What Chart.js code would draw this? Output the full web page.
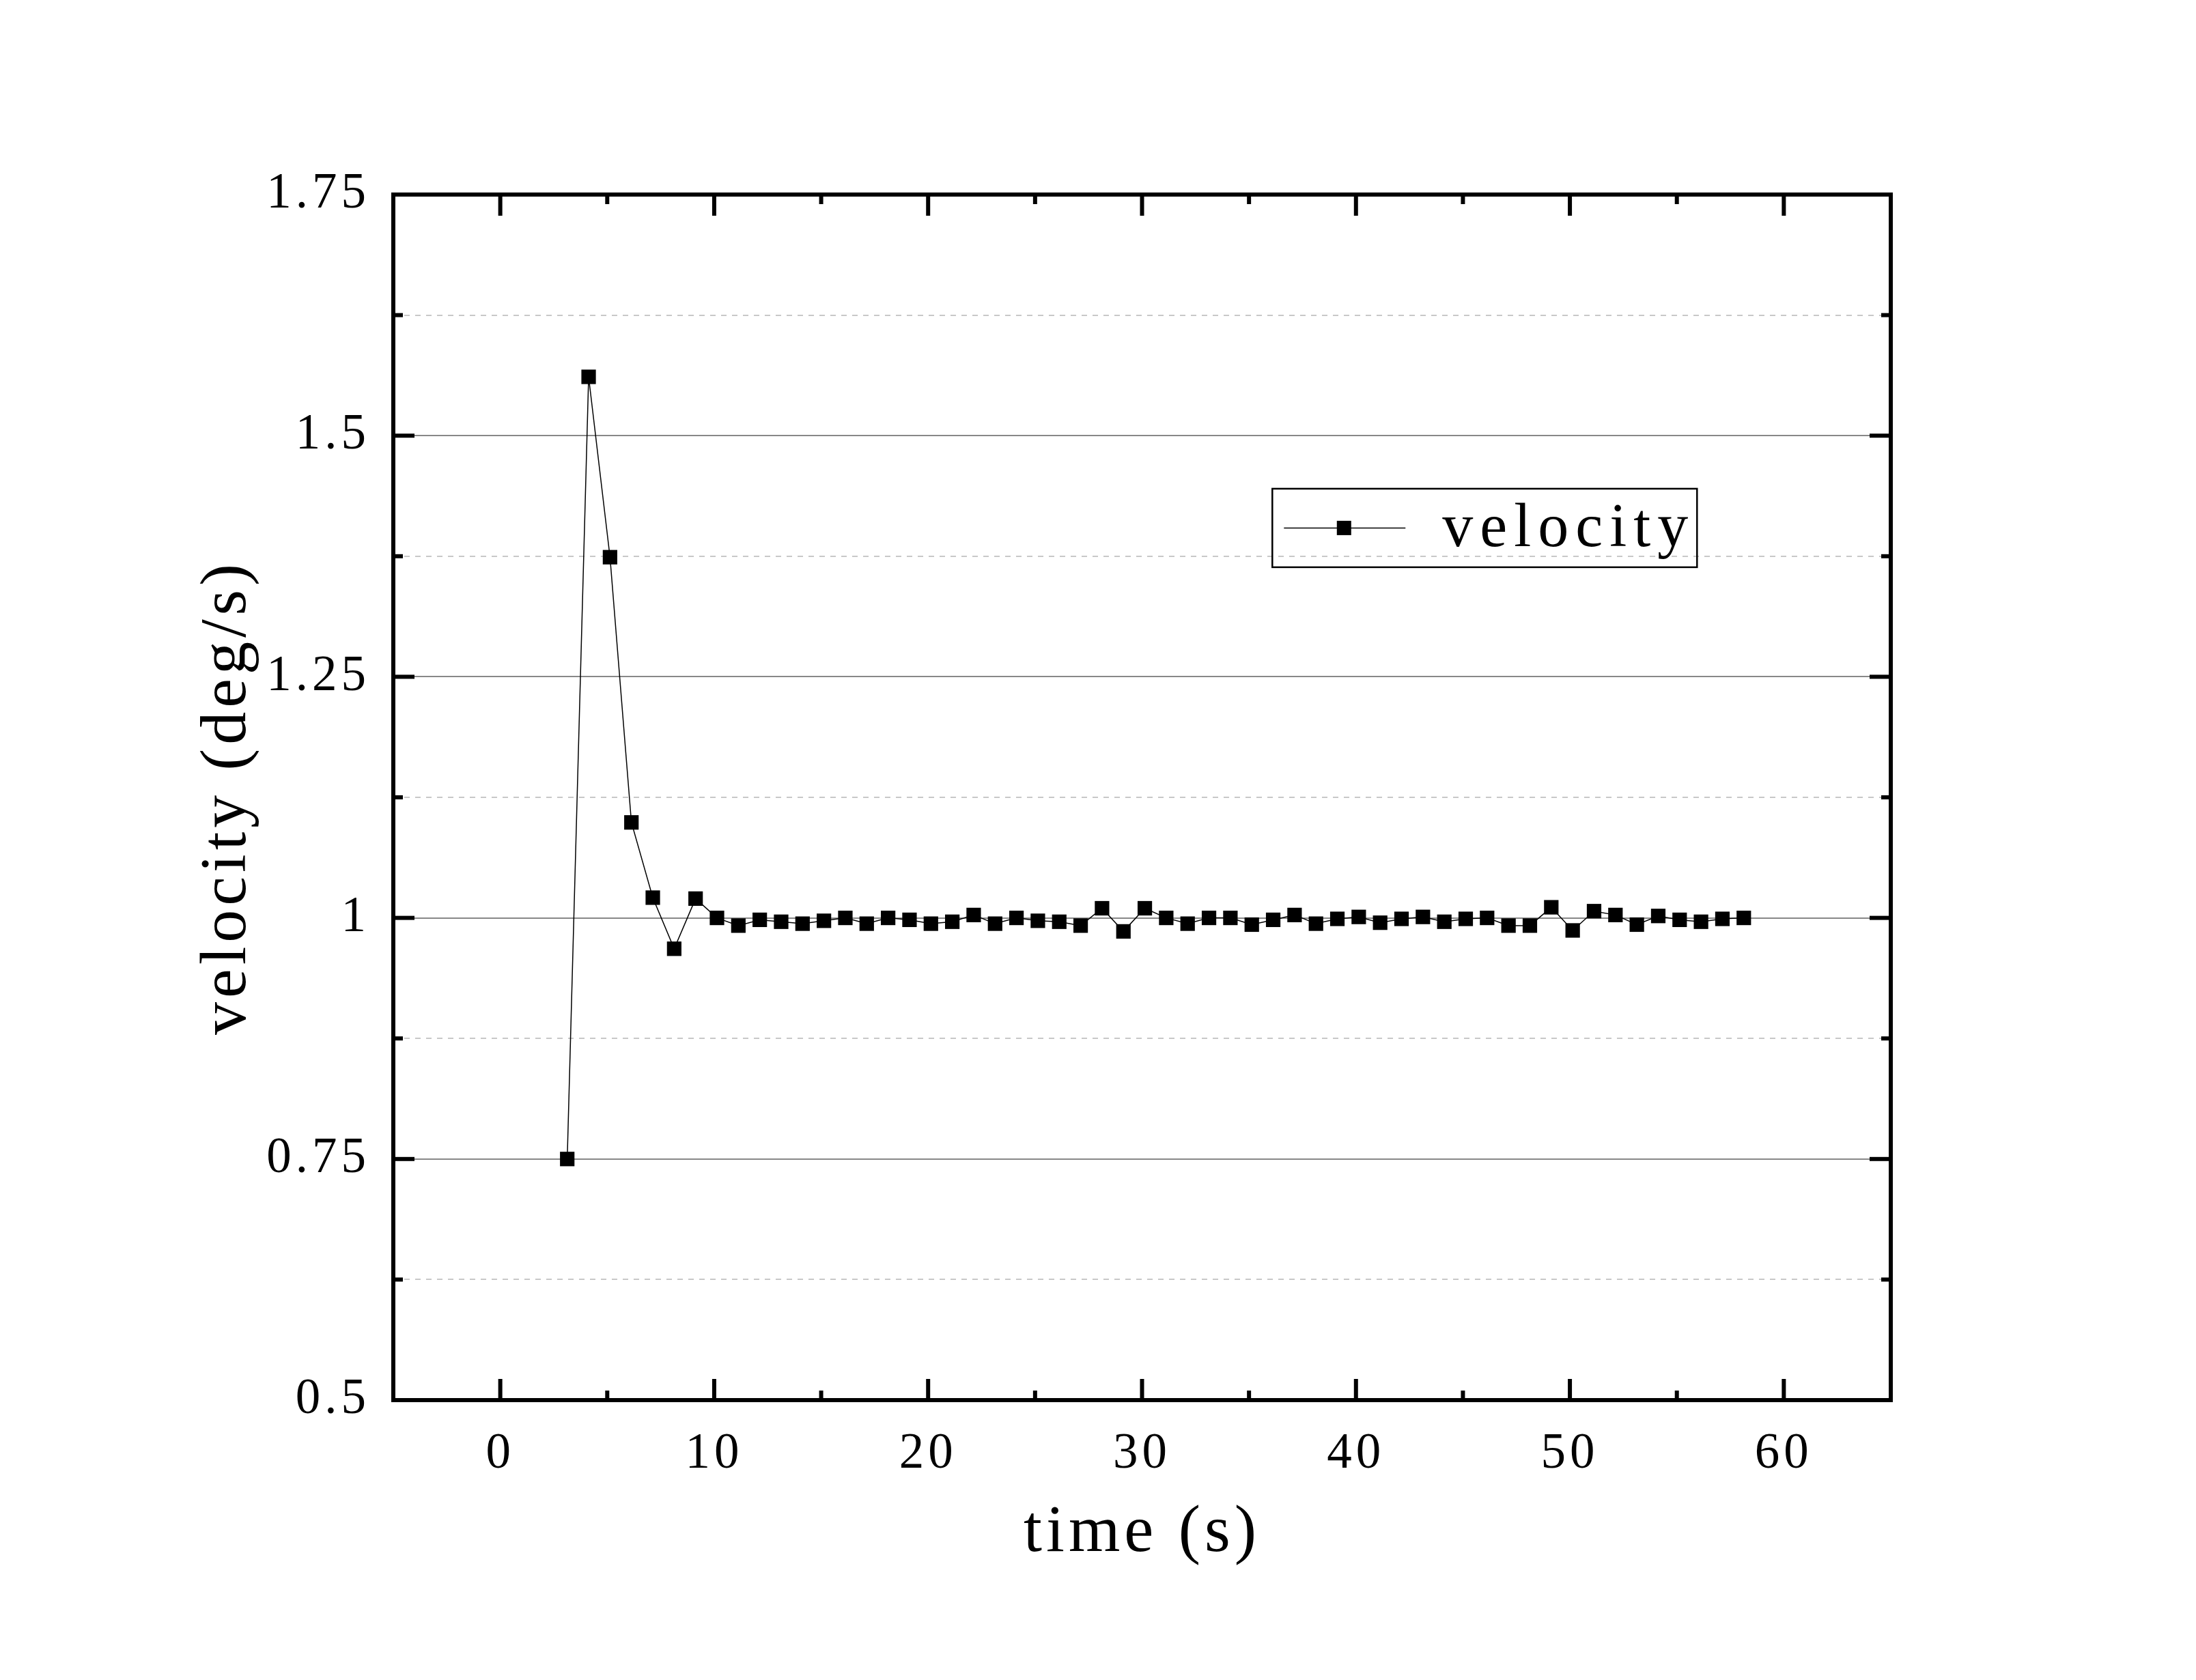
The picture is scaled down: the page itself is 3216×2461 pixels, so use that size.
<!DOCTYPE html>
<html>
<head>
<meta charset="utf-8">
<script src="https://cdn.jsdelivr.net/npm/chart.js"></script>
<style>
  html, body { margin: 0; padding: 0; background: #fff; }
  #wrap { width: 3216px; height: 2461px; }
</style>
</head>
<body>
<div id="wrap"><canvas id="velocity"></canvas></div>
<script>
const times = [3.13, 4.13, 5.13, 6.13, 7.13, 8.13, 9.13, 10.13, 11.13, 12.13, 13.13,
  14.13, 15.13, 16.13, 17.13, 18.13, 19.13, 20.13, 21.13, 22.13, 23.13, 24.13, 25.13,
  26.13, 27.13, 28.13, 29.13, 30.13, 31.13, 32.13, 33.13, 34.13, 35.13, 36.13, 37.13,
  38.13, 39.13, 40.13, 41.13, 42.13, 43.13, 44.13, 45.13, 46.13, 47.13, 48.13, 49.13,
  50.13, 51.13, 52.13, 53.13, 54.13, 55.13, 56.13, 57.13, 58.13];
const velocity = [0.750, 1.561, 1.374, 1.099, 1.021, 0.968, 1.020, 1.000, 0.992, 0.998,
  0.996, 0.994, 0.997, 1.000, 0.994, 1.000, 0.998, 0.994, 0.996, 1.003,
  0.994, 1.000, 0.997, 0.996, 0.992, 1.010, 0.986, 1.010, 1.000, 0.994,
  1.000, 1.000, 0.993, 0.998, 1.003, 0.994, 0.999, 1.001, 0.995, 0.999,
  1.001, 0.996, 0.999, 1.000, 0.992, 0.992, 1.011, 0.987, 1.007, 1.003,
  0.993, 1.002, 0.998, 0.996, 0.999, 1.000];
const xTicks = [0, 10, 20, 30, 40, 50, 60];
const xMinor = [5, 15, 25, 35, 45, 55];
const yTicks = [0.5, 0.75, 1, 1.25, 1.5, 1.75];
const yMinor = [0.625, 0.875, 1.125, 1.375, 1.625];

const FONT = "'Liberation Serif', 'DejaVu Serif', serif";

// frame, inward ticks, dashed minor grid and the legend box
const frame = {
  id: 'frame',
  beforeLayout(chart) { chart.ctx.letterSpacing = '6px'; },
  beforeDraw(chart) { chart.ctx.letterSpacing = '6px'; },
  beforeDatasetsDraw(chart) {
    const {ctx, chartArea: a, scales: {y}} = chart;
    ctx.save();
    ctx.strokeStyle = '#c8c8c8';
    ctx.lineWidth = 2;
    ctx.setLineDash([8, 8]);
    yMinor.forEach(v => {
      const py = Math.round(y.getPixelForValue(v));
      ctx.beginPath();
      ctx.moveTo(a.left, py);
      ctx.lineTo(a.right, py);
      ctx.stroke();
    });
    ctx.restore();
  },
  afterDraw(chart) {
    const {ctx, chartArea: a, scales: {x, y}} = chart;
    ctx.save();
    ctx.strokeStyle = '#000';
    ctx.lineWidth = 6;
    ctx.setLineDash([]);
    ctx.strokeRect(a.left, a.top, a.right - a.left, a.bottom - a.top);

    const tick = (x1, y1, x2, y2) => {
      ctx.beginPath(); ctx.moveTo(x1, y1); ctx.lineTo(x2, y2); ctx.stroke();
    };
    const major = 31, minor = 14;
    xTicks.forEach(v => {
      const px = x.getPixelForValue(v);
      tick(px, a.bottom, px, a.bottom - major);
      tick(px, a.top, px, a.top + major);
    });
    xMinor.forEach(v => {
      const px = x.getPixelForValue(v);
      tick(px, a.bottom, px, a.bottom - minor);
      tick(px, a.top, px, a.top + minor);
    });
    yTicks.forEach(v => {
      const py = y.getPixelForValue(v);
      tick(a.left, py, a.left + major, py);
      tick(a.right, py, a.right - major, py);
    });
    yMinor.forEach(v => {
      const py = y.getPixelForValue(v);
      tick(a.left, py, a.left + minor, py);
      tick(a.right, py, a.right - minor, py);
    });

    // legend
    const w = a.right - a.left, h = a.bottom - a.top;
    const lx = a.left + w * 0.587, ly = a.top + h * 0.244;
    const bw = 622, bh = 115;
    ctx.lineWidth = 2.5;
    ctx.strokeRect(lx, ly, bw, bh);
    const cy = ly + bh / 2;
    ctx.lineWidth = 1.5;
    tick(lx + 17, cy, lx + 195, cy);
    ctx.fillStyle = '#000';
    ctx.fillRect(lx + 105 - 10.5, cy - 10.5, 21, 21);
    ctx.letterSpacing = '10px';
    ctx.font = '90px ' + FONT;
    ctx.textAlign = 'left';
    ctx.textBaseline = 'middle';
    ctx.fillText(chart.data.datasets[0].label, lx + 249, cy + 3);
    ctx.restore();
  }
};

new Chart(document.getElementById('velocity'), {
  type: 'line',
  data: {
    datasets: [{
      label: 'velocity',
      data: times.map((t, i) => ({x: t, y: velocity[i]})),
      borderColor: '#000',
      borderWidth: 1.5,
      pointStyle: 'rect',
      pointRadius: 15,
      pointBorderWidth: 0,
      pointBackgroundColor: '#000',
      tension: 0
    }]
  },
  options: {
    responsive: true,
    maintainAspectRatio: false,
    animation: false,
    devicePixelRatio: 1,
    layout: {
      padding: {top: 285, right: 447, left: 0, bottom: 0}
    },
    plugins: {
      legend: {display: false},
      tooltip: {enabled: false}
    },
    scales: {
      x: {
        type: 'linear',
        min: -5,
        max: 65,
        afterBuildTicks: s => { s.ticks = xTicks.map(v => ({value: v})); },
        afterFit: s => { s.height = 410; },
        grid: {display: false, drawTicks: false},
        border: {display: false},
        ticks: {
          color: '#000',
          padding: 36,
          font: {family: FONT, size: 73},
          callback: v => String(v)
        },
        title: {
          display: true,
          text: 'time (s)',
          color: '#000',
          font: {family: FONT, size: 97},
          padding: {top: 0, bottom: 156}
        }
      },
      y: {
        min: 0.5,
        max: 1.75,
        afterBuildTicks: s => { s.ticks = yTicks.map(v => ({value: v})); },
        afterFit: s => { s.width = 576; },
        grid: {
          drawTicks: false,
          lineWidth: 2,
          color: c => (c.tick && (c.tick.value === 0.5 || c.tick.value === 1.75)) ? 'rgba(0,0,0,0)' : '#888'
        },
        border: {display: false},
        ticks: {
          color: '#000',
          padding: 34,
          font: {family: FONT, size: 73},
          callback: v => String(v)
        },
        title: {
          display: true,
          text: 'velocity (deg/s)',
          color: '#000',
          font: {family: FONT, size: 96},
          padding: {top: 276, bottom: 0}
        }
      }
    }
  },
  plugins: [frame]
});
</script>
</body>
</html>
